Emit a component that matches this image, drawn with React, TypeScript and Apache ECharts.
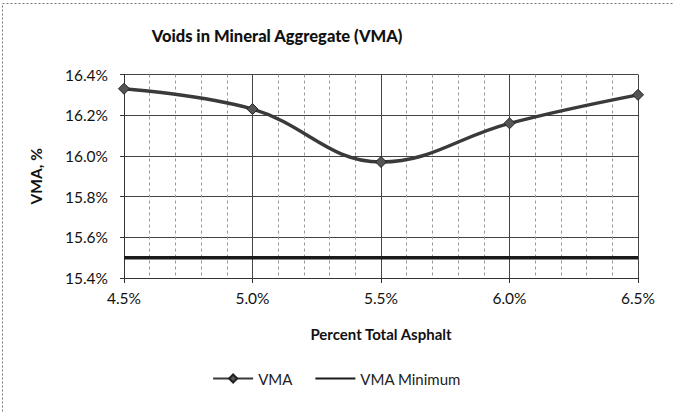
import React, { useEffect, useRef } from "react";
import * as echarts from "echarts";

const asphaltPct = [4.5, 5.0, 5.5, 6.0, 6.5];
const vmaValues = [16.33, 16.23, 15.97, 16.16, 16.30];
const vmaMinimum = [15.5, 15.5];
const vmaMinX = [4.5, 6.5];

const FONT = "Lato, 'Open Sans', sans-serif";

export default function App() {
  const ref = useRef<HTMLDivElement>(null);
  useEffect(() => {
    if (!ref.current) return;
    const chart = echarts.init(ref.current, null, { renderer: "svg" });
    chart.setOption({
      animation: false,
      backgroundColor: "#fff",
      textStyle: { fontFamily: FONT },
      title: {
        text: "Voids in Mineral Aggregate (VMA)",
        left: 272,
        textAlign: "center",
        top: 22,
        textStyle: { fontFamily: FONT, fontSize: 16.5, fontWeight: 900, color: "#111" },
      },
      graphic: [
        {
          type: "rect",
          shape: { x: 2.5, y: 3.5, width: 680, height: 420 },
          style: { fill: "none", stroke: "#777", lineWidth: 1, lineDash: [2, 2] },
          silent: true,
        },
      ],
      legend: {
        bottom: 21,
        left: "center",
        itemWidth: 40,
        itemHeight: 10,
        itemGap: 22,
        textStyle: { fontFamily: FONT, fontSize: 15, color: "#222" },
        data: [
          { name: "VMA" },
          { name: "VMA Minimum", itemStyle: { opacity: 0 } },
        ],
      },
      grid: { left: 124, right: 35, top: 74.5, bottom: 134 },
      xAxis: {
        type: "value",
        min: 4.5,
        max: 6.5,
        interval: 0.5,
        name: "Percent Total Asphalt",
        nameLocation: "middle",
        nameGap: 48,
        nameTextStyle: { fontFamily: FONT, fontSize: 15, fontWeight: "bold", color: "#111" },
        axisLine: { show: true, lineStyle: { color: "#333", width: 1 } },
        axisTick: { show: true, length: 5, lineStyle: { color: "#333" } },
        axisLabel: {
          fontFamily: FONT,
          fontSize: 15.5,
          color: "#111",
          margin: 12,
          formatter: (v: number) => v.toFixed(1) + "%",
        },
        splitLine: { show: true, lineStyle: { color: "#444", width: 1 } },
        minorTick: { show: false, splitNumber: 5 },
        minorSplitLine: { show: true, lineStyle: { color: "#999", width: 1, type: [3, 3] } },
      },
      yAxis: {
        type: "value",
        min: 15.4,
        max: 16.4,
        interval: 0.2,
        name: "VMA, %",
        nameLocation: "middle",
        nameGap: 80,
        nameTextStyle: { fontFamily: FONT, fontSize: 15.5, fontWeight: "bold", color: "#111" },
        axisLine: { show: true, lineStyle: { color: "#333", width: 1 } },
        axisTick: { show: true, length: 4, lineStyle: { color: "#333" } },
        axisLabel: {
          fontFamily: FONT,
          fontSize: 15.5,
          color: "#111",
          margin: 16,
          formatter: (v: number) => v.toFixed(1) + "%",
        },
        splitLine: { show: true, lineStyle: { color: "#444", width: 1 } },
      },
      series: [
        {
          name: "VMA",
          type: "line",
          smooth: 0.4,
          data: asphaltPct.map((x, i) => [x, vmaValues[i]]),
          symbol: "diamond",
          symbolSize: 11,
          lineStyle: { color: "#3a3a3a", width: 3.5 },
          itemStyle: { color: "#555", borderColor: "#222", borderWidth: 1 },
          z: 3,
        },
        {
          name: "VMA Minimum",
          type: "line",
          data: vmaMinX.map((x, i) => [x, vmaMinimum[i]]),
          symbol: "none",
          lineStyle: { color: "#1a1a1a", width: 3.5 },
          itemStyle: { color: "#1a1a1a" },
          z: 2,
        },
      ],
    });
    return () => chart.dispose();
  }, []);
  return <div ref={ref} style={{ width: 673, height: 412, position: "absolute", left: 0, top: 0 }} />;
}
